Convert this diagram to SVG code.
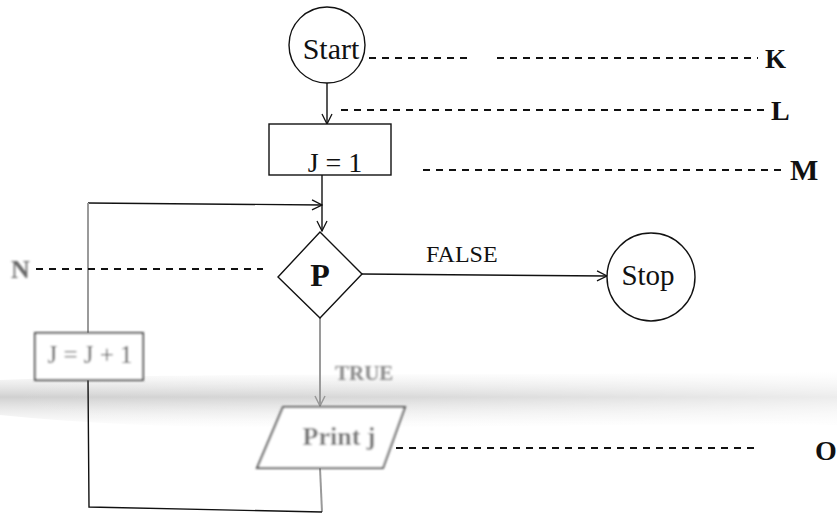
<svg xmlns="http://www.w3.org/2000/svg" width="837" height="516" viewBox="0 0 837 516">
<defs>
<marker id="arr" viewBox="0 0 12 12" refX="11" refY="6" markerWidth="12" markerHeight="12" markerUnits="userSpaceOnUse" orient="auto">
<path d="M1,1 L11,6 L1,11" fill="none" stroke="#111" stroke-width="1.3"/>
</marker>
<marker id="arrg" viewBox="0 0 12 12" refX="11" refY="6" markerWidth="12" markerHeight="12" markerUnits="userSpaceOnUse" orient="auto">
<path d="M1,1 L11,6 L1,11" fill="none" stroke="#999" stroke-width="1.5"/>
</marker>
<linearGradient id="band" x1="0" y1="0" x2="0" y2="1">
<stop offset="0" stop-color="#d8d8d8" stop-opacity="0"/>
<stop offset="0.45" stop-color="#c8c8c8" stop-opacity="0.85"/>
<stop offset="1" stop-color="#e8e8e8" stop-opacity="0"/>
</linearGradient>
<linearGradient id="fade" x1="0" y1="0" x2="1" y2="0">
<stop offset="0" stop-color="#fff" stop-opacity="0"/>
<stop offset="0.5" stop-color="#fff" stop-opacity="0.2"/>
<stop offset="1" stop-color="#fff" stop-opacity="0.6"/>
</linearGradient>
<filter id="blur" x="-10%" y="-30%" width="120%" height="160%"><feGaussianBlur stdDeviation="0.8"/></filter>
<style>
.t{font-family:"Liberation Serif","Times New Roman",serif;fill:#111}
.b{font-weight:bold}
.ln{fill:none;stroke:#111;stroke-width:1.4}
.gl{fill:none;stroke:#9a9a9a;stroke-width:2}
.sh{fill:#fff;stroke:#111;stroke-width:1.4}
.dash{fill:none;stroke:#111;stroke-width:2;stroke-dasharray:7 6}
</style>
</defs>
<rect width="837" height="516" fill="#fff"/>
<path d="M0,380 C200,372 500,376 837,372 L837,425 C500,420 250,440 0,415 Z" fill="url(#band)"/>
<rect x="0" y="370" width="837" height="60" fill="url(#fade)"/>

<g id="connectors">
<line class="ln" x1="327" y1="83" x2="327" y2="124" marker-end="url(#arr)"/>
<line class="ln" x1="322" y1="175" x2="322" y2="231" marker-end="url(#arr)"/>
<polyline class="ln" points="88,203 322,205" marker-end="url(#arr)"/>
<line class="ln" x1="362" y1="274" x2="607" y2="276" stroke-width="1.8" marker-end="url(#arr)"/>
<line class="gl" x1="320" y1="318" x2="320" y2="406" marker-end="url(#arrg)"/>
<line class="gl" x1="320" y1="468" x2="322" y2="512"/>
<polyline class="ln" points="322,512 89,507 88,380"/>
<line class="gl" x1="88" y1="333" x2="88" y2="203"/>
<text class="t" x="426" y="262" font-size="24">FALSE</text>
<text class="t b" x="335" y="380" font-size="21" style="fill:#8a8a8a" filter="url(#blur)">TRUE</text>
</g>

<g id="labels">
<line class="dash" x1="369" y1="58" x2="470" y2="58"/>
<line class="dash" x1="497" y1="58" x2="758" y2="58"/>
<text class="t b" x="765" y="68" font-size="27">K</text>
<line class="dash" x1="341" y1="110" x2="764" y2="110"/>
<text class="t b" x="771" y="120" font-size="28">L</text>
<line class="dash" x1="423" y1="170" x2="782" y2="170"/>
<text class="t b" x="790" y="180" font-size="30">M</text>
<line class="dash" x1="36" y1="269" x2="263" y2="269"/>
<text class="t b" x="11" y="278" font-size="26" style="fill:#666" filter="url(#blur)">N</text>
<line class="dash" x1="396" y1="448" x2="760" y2="448"/>
<text class="t b" x="815" y="460" font-size="28">O</text>
</g>

<g id="start">
<circle class="sh" cx="327" cy="45" r="38"/>
<text class="t" x="331" y="59" font-size="30" text-anchor="middle">Start</text>
</g>
<g id="init">
<rect class="sh" x="269" y="124" width="122" height="51"/>
<text class="t" x="335" y="172" font-size="28" text-anchor="middle">J = 1</text>
</g>
<g id="decision">
<polygon class="sh" points="320,232 362,274 320,318 278,277"/>
<text class="t b" x="320" y="286" font-size="32" text-anchor="middle">P</text>
</g>
<g id="stop">
<circle class="sh" cx="651" cy="277" r="44"/>
<text class="t" x="648" y="285" font-size="29" text-anchor="middle">Stop</text>
</g>
<g id="increment" filter="url(#blur)">
<rect x="35" y="333" width="108" height="47" fill="#fff" stroke="#444" stroke-width="2"/>
<text class="t" x="90" y="363" font-size="25" text-anchor="middle" style="fill:#555">J = J + 1</text>
</g>
<g id="print" filter="url(#blur)">
<polygon points="283,407 405,407 383,468 257,468" fill="#fff" stroke="#555" stroke-width="2"/>
<text class="t b" x="339" y="445" font-size="26" text-anchor="middle" style="fill:#777">Print j</text>
</g>
</svg>
